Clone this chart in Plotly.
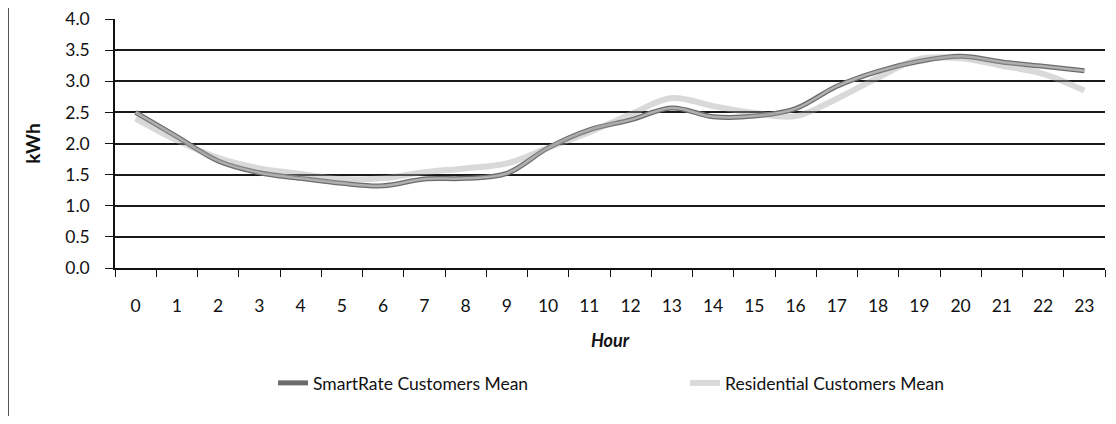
import plotly.graph_objects as go

hours = [str(h) for h in range(24)]
smartrate_mean = [2.50, 2.11, 1.72, 1.53, 1.44, 1.36, 1.32, 1.43, 1.44, 1.52, 1.93, 2.22,
                  2.38, 2.57, 2.43, 2.44, 2.56, 2.92, 3.16, 3.32, 3.40, 3.31, 3.24, 3.17]
residential_mean = [2.40, 2.05, 1.77, 1.60, 1.51, 1.43, 1.44, 1.54, 1.60, 1.68, 1.93, 2.18,
                    2.47, 2.73, 2.60, 2.49, 2.44, 2.72, 3.06, 3.36, 3.37, 3.25, 3.12, 2.85]
y_ticks = [0.0, 0.5, 1.0, 1.5, 2.0, 2.5, 3.0, 3.5, 4.0]

FONT = "Lato"
FS = 17.5

fig = go.Figure()
fig.add_trace(go.Scatter(
    x=hours, y=smartrate_mean, mode="lines", name="SmartRate Customers Mean",
    line=dict(color="#6c6c6c", width=5, shape="spline", smoothing=1.0),
))
fig.add_trace(go.Scatter(
    x=hours, y=smartrate_mean, mode="lines", showlegend=False, hoverinfo="skip",
    line=dict(color="#b0b0b0", width=2.5, shape="spline", smoothing=1.0),
))
fig.add_trace(go.Scatter(
    x=hours, y=residential_mean, mode="lines", name="Residential Customers Mean",
    line=dict(color="rgba(160,160,160,0.40)", width=6, shape="spline", smoothing=1.0),
))

L, R, T, B = 107, 3, 11, 148
PW, PH = 1100 - L - R, 408 - T - B

fig.update_layout(
    width=1100, height=408,
    margin=dict(l=L, r=R, t=T, b=B, autoexpand=False),
    paper_bgcolor="white", plot_bgcolor="white",
    font=dict(family=FONT, size=FS, color="#111"),
    showlegend=True,
    legend=dict(
        orientation="h", x=0.1596, xanchor="left", y=-115 / PH, yanchor="middle",
        entrywidth=367, entrywidthmode="pixels",
        font=dict(family=FONT, size=FS, color="#111"),
        bgcolor="rgba(0,0,0,0)",
    ),
    xaxis=dict(
        type="category", tickson="boundaries", ticks="outside", ticklen=7,
        tickcolor="#111", tickwidth=1.2, automargin=False,
        showline=True, linecolor="#111", linewidth=1.5,
        showgrid=False, ticklabelstandoff=21, ticklabeloverflow="allow",
        title=dict(text="<b><i>Hour</i></b>", standoff=20,
                   font=dict(family=FONT, size=18, color="#111")),
        range=[-0.5, 23.5],
    ),
    yaxis=dict(
        range=[0, 4], tickvals=y_ticks, tickformat=".1f", automargin=False,
        ticks="outside", ticklen=8, tickcolor="#111", tickwidth=1.2,
        showline=True, linecolor="#111", linewidth=1.5,
        showgrid=True, gridcolor="#1a1a1a", gridwidth=1.5,
        zeroline=False, ticklabelstandoff=12, ticklabeloverflow="allow",
        title=dict(text="<b>kWh</b>", standoff=20,
                   font=dict(family=FONT, size=19, color="#111")),
    ),
    shapes=[dict(type="line", xref="paper", yref="paper",
                 x0=(0.5 - L) / PW, x1=(0.5 - L) / PW, y0=-B / PH, y1=(PH + T) / PH,
                 line=dict(color="#555", width=1))],
)

fig.write_html("out.html")
